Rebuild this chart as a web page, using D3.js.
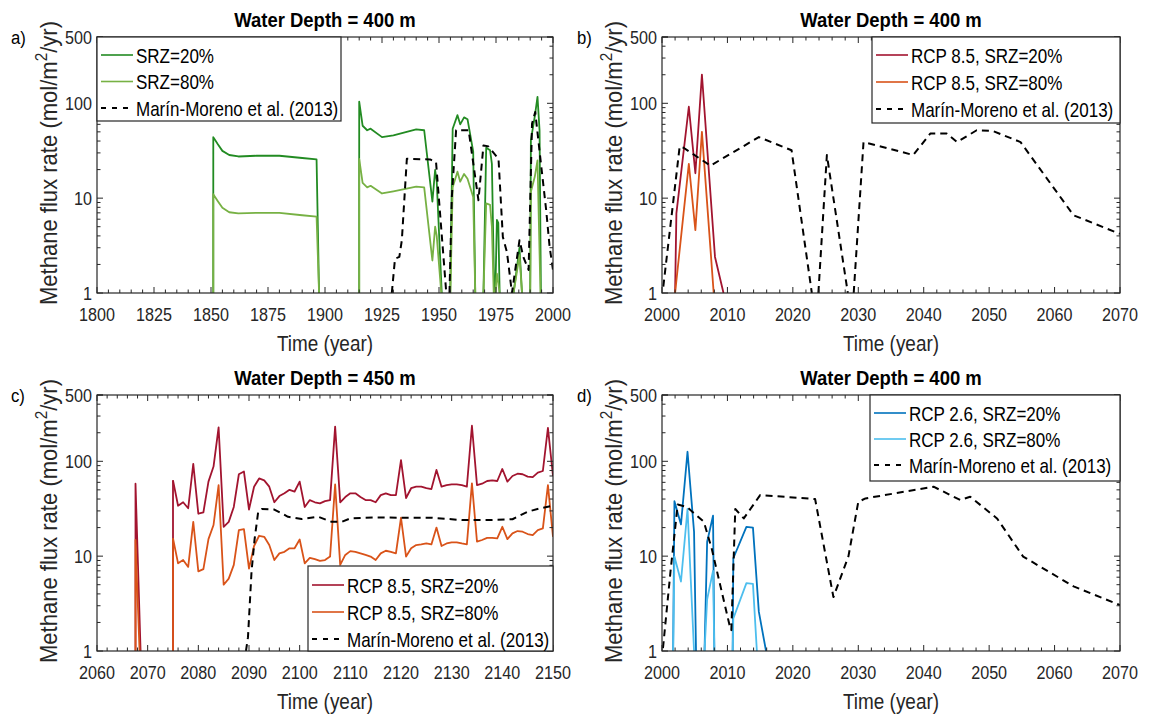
<!DOCTYPE html>
<html>
<head>
<meta charset="utf-8">
<script src="https://cdn.jsdelivr.net/npm/d3@7"></script>
<style>
  body { margin: 0; background: #fff; }
  svg { font-family: "Liberation Sans", Arial, sans-serif; }
</style>
</head>
<body>
<svg id="fig" width="1149" height="717"></svg>
<script>
// Four log-scale panels of methane flux vs time, MATLAB look.

// ---- panel a: 400 m, historical ----
const srz20A = [[1851,1],[1851,44],[1853,37],[1855,31.5],[1858,28.5],[1862,27.5],[1870,28],[1880,28],[1890,26.5],[1896.3,25.6],[1897.4,1], null,
  [1915,1],[1915,104],[1916.5,58],[1918.5,52],[1920,54],[1925,44],[1930,46],[1940,53],[1943.5,52],[1947.1,9.2],[1948.3,19.8],[1949,15],[1951.2,1], null,
  [1954.9,1],[1956,54],[1958.1,75],[1959.3,60],[1961,71],[1962.5,68],[1965,31],[1965.9,1], null,
  [1969.5,1],[1970.7,34],[1972.4,32],[1973.2,23],[1974.2,1], null,
  [1974.7,1],[1975.4,5.9],[1976,5.5],[1976.6,1], null,
  [1982.7,1],[1985.3,3],[1986.4,1], null,
  [1990,1],[1990.3,41],[1992.1,75],[1993.2,117],[1994.1,52],[1994.7,1]];
const srz80A = [[1851,1],[1851,11],[1853,9.3],[1855,7.9],[1858,7.1],[1862,6.9],[1870,7],[1880,7],[1890,6.6],[1896.3,6.4],[1897.4,1], null,
  [1915,1],[1915,26],[1916.5,14.5],[1918.5,13],[1920,13.5],[1925,11.2],[1930,11.8],[1940,13.2],[1943.5,13],[1947.1,2.2],[1948.3,5],[1949,4],[1951,1], null,
  [1955,1],[1956,13],[1958.1,19],[1959.3,14.9],[1961,18],[1962.5,16],[1965,10.3],[1965.9,1], null,
  [1969.5,1],[1970.7,8.8],[1972.4,8.5],[1973.2,5],[1974,1], null,
  [1974.7,1],[1975.4,1.6],[1976.6,1], null,
  [1982.7,1],[1985.3,2.5],[1986.4,1], null,
  [1990,1],[1990.3,11.7],[1992,16.8],[1993.2,25],[1994.5,1]];
const marinA = [[1929.3,1],[1930.7,2.3],[1932.6,2.4],[1933.7,3.6],[1935.9,26],[1946.1,25.6],[1948.7,24],[1953.2,1], null,
  [1954.6,1],[1955.6,10],[1957.5,52],[1963,52],[1967.3,9.5],[1969.5,36],[1971.7,35],[1976.1,26],[1978,3.9],[1979.8,2.7],[1982,1],
  [1985.3,3.6],[1987,2.4],[1989.3,1.75],[1990.8,61],[1992.2,81],[1994.4,27],[1997,7.5],[1998.5,3.1],[2000,1.75]];

// ---- panel b: 400 m, RCP 8.5 ----
const rcp85srz20B = [[2002,1],[2002.2,6.9],[2004.1,92],[2005.1,18.3],[2006.1,201],[2008.1,2.4],[2009.4,1]];
const rcp85srz80B = [[2002,1],[2004.1,23],[2005.1,4.6],[2006.1,50],[2007.9,1]];
const marinB = [[2000.2,1.17],[2002.7,35],[2003.3,34],[2007.4,22],[2014.8,44],[2019.8,32],[2022.9,1], null,
  [2023.9,1],[2025.2,28.5],[2028.4,1], null,
  [2029.3,1],[2030.8,39],[2038.4,28.5],[2041,48],[2043.5,48],[2045.1,39],[2048.1,52],[2050.6,51],[2054.8,39],[2062.9,6.6],[2070,4.2]];

// ---- panel c: 450 m, RCP 8.5 ----
const yearsC = d3.range(2075, 2151);
const rcp85srz20C = [63,34,37,32,94,28,29,61,88,228,20.4,23,33,73,78,31,54,66,63,54,37,43,46,50,48,61,33,39,37,36,38,39,232,
  37,42,46,46,42,39,39,37,44,46,44,44,103,41,52,54,54,52,51,81,54,56,57,57,56,54,237,56,58,62,63,62,83,61,70,74,73,69,68,76,79,225,70];
const rcp85srz80C = [15.4,8.4,9.1,7.7,23,6.9,7.3,15.1,21.3,56,5,5.8,8.1,18.8,19.3,7.4,12.8,16.4,16,13.1,9.1,10.7,11.1,12.1,12.1,15,8.4,9.6,9.3,8.9,9.1,9.9,57,
  8.1,10.3,11.3,11.1,10.7,10.3,9.9,9.1,10.7,11.4,11.1,10.7,25.4,9.9,12.1,13.1,13.3,13.6,13.3,20,12.8,13.6,14,14,13.6,13.3,58.5,14.2,14.8,15.6,15.6,15.4,20.4,15.1,17.4,18.4,18.1,17.1,16.7,18.8,19.6,56,16];
const spike20C = [[2067.6,1],[2067.6,58],[2068.6,1], null, [2075,1],[2075,63]];
const spike80C = [[2067.6,1],[2067.6,14.8],[2068.4,1], null, [2075,1],[2075,15.4]];
const marinC = [[2089.4,1],[2089.8,1.4],[2090.5,6.9],[2091.1,15],[2091.8,29],[2092.5,31.5],[2095,31],[2097.7,26],[2100.4,24.6],[2103.7,26],
  [2106.3,23],[2108.3,23],[2110,25],[2115,25.6],[2120,25.4],[2126,25.4],[2130,24.5],[2132,24],[2137,24],[2142,24.5],[2145,29.4],[2147.5,32],[2150,34]];

// ---- panel d: 400 m, RCP 2.6 ----
const rcp26srz20D = [[2001.7,1],[2001.9,38],[2002.9,21.6],[2003.9,126],[2004.9,18],[2005.2,1], null,
  [2006.5,1],[2006.9,14.2],[2007.8,26.7],[2008,1], null,
  [2010.8,1],[2010.9,9.5],[2012.9,20.4],[2013.9,20],[2014.8,2.6],[2015.9,1]];
const rcp26srz80D = [[2001.7,1],[2001.9,9.9],[2002.9,5.4],[2003.9,31.4],[2004.9,1], null,
  [2006.5,1],[2006.9,3.5],[2007.8,7],[2008,1], null,
  [2010.8,1],[2010.9,2.2],[2012.9,5.2],[2013.9,5.1],[2014.5,1]];
const marinD = [[2000.15,1.07],[2001.3,6.9],[2002.4,35],[2003.8,33],[2006.4,23],[2007.6,12],[2010.3,1.9],[2010.6,1.66],[2011.2,31.4],
  [2012.5,25],[2015,44],[2023.4,40],[2026.2,3.7],[2028.5,10],[2030,37.4],[2031.1,40.6],[2041.5,54],[2045.6,39],[2047.1,42.3],
  [2051.2,25],[2055.2,9.9],[2062.9,4.8],[2070,3.05]];

const yTicks = [1, 10, 100, 500];
const marinLabel = "Marín-Moreno et al. (2013)";

const C = {
  green: "#228b22", lightGreen: "#77b144",
  red: "#a2142f", orange: "#d95319",
  blue: "#0072bd", lightBlue: "#4dbeee",
  axis: "#262626"
};

const svg = d3.select("#fig");

// MATLAB's Helvetica comes out taller and narrower than Liberation Sans
function squeezed(parent, x, y, str, size, sx) {
  return parent.append("text")
    .attr("transform", `translate(${x},${y}) scale(${sx},1)`)
    .attr("font-size", size)
    .text(str);
}

function drawPanel(o) {
  const { left, top, width, height } = o.box;
  const g = svg.append("g").attr("transform", `translate(${left},${top})`);
  const x = d3.scaleLinear().domain(o.xDomain).range([0, width]);
  const y = d3.scaleLog().domain([1, 500]).range([height, 0]);

  const clipId = "clip-" + o.id;
  g.append("clipPath").attr("id", clipId)
    .append("rect").attr("width", width).attr("height", height);

  // series
  const line = d3.line()
    .defined(d => d !== null)
    .x(d => x(d[0]))
    .y(d => y(d[1]));
  const plot = g.append("g").attr("clip-path", `url(#${clipId})`);
  o.series.forEach(s => {
    s.data.forEach(arr => {
      plot.append("path")
        .datum(arr)
        .attr("fill", "none")
        .attr("stroke", s.color)
        .attr("stroke-width", s.dash ? 2 : 1.8)
        .attr("stroke-dasharray", s.dash ? "7 5" : null)
        .attr("stroke-linejoin", "round")
        .attr("d", line);
    });
  });

  // ticks (inward, mirrored on all four sides)
  const xMajor = d3.range(o.xDomain[0], o.xDomain[1] + 0.01, o.xStep);
  const xMinor = d3.range(o.xDomain[0], o.xDomain[1] + 0.01, o.xMinor);
  const yMinor = [];
  [1, 10, 100].forEach(dec => d3.range(2, 10).forEach(k => { if (dec * k <= 500) yMinor.push(dec * k); }));

  const tk = g.append("g").attr("stroke", C.axis).attr("stroke-width", 1);
  xMinor.forEach(v => {
    const isMajor = xMajor.some(m => Math.abs(m - v) < 1e-6);
    const len = isMajor ? 6 : 3.5;
    tk.append("line").attr("x1", x(v)).attr("x2", x(v)).attr("y1", height).attr("y2", height - len);
    tk.append("line").attr("x1", x(v)).attr("x2", x(v)).attr("y1", 0).attr("y2", len);
  });
  yTicks.concat(yMinor).forEach(v => {
    const len = yTicks.includes(v) ? 6 : 3.5;
    tk.append("line").attr("x1", 0).attr("x2", len).attr("y1", y(v)).attr("y2", y(v));
    tk.append("line").attr("x1", width).attr("x2", width - len).attr("y1", y(v)).attr("y2", y(v));
  });

  g.append("rect").attr("width", width).attr("height", height)
    .attr("fill", "none").attr("stroke", C.axis).attr("stroke-width", 1.2);

  // tick labels
  g.selectAll(".xl").data(xMajor).join("text")
    .attr("transform", d => `translate(${x(d)},${height + 28}) scale(0.85,1)`)
    .attr("text-anchor", "middle").attr("font-size", 19).attr("fill", C.axis)
    .text(d => d);
  g.selectAll(".yl").data(yTicks).join("text")
    .attr("transform", d => `translate(-5,${y(d) + 7}) scale(0.85,1)`)
    .attr("text-anchor", "end").attr("font-size", 19).attr("fill", C.axis)
    .text(d => d);

  // axis labels
  squeezed(g, width / 2, height + 58, "Time (year)", 21.5, 0.88)
    .attr("text-anchor", "middle").attr("fill", C.axis);
  const yl = g.append("text")
    .attr("transform", `translate(-40,${height / 2 - 2}) rotate(-90) scale(0.9,1)`)
    .attr("text-anchor", "middle").attr("font-size", 24.5).attr("fill", C.axis);
  yl.append("tspan").text("Methane flux rate (mol/m");
  yl.append("tspan").attr("dy", -10).attr("font-size", 17).text("2");
  yl.append("tspan").attr("dy", 10).text("/yr)");

  // title and panel letter
  squeezed(g, width / 2, -10, o.title, 21, 0.88)
    .attr("text-anchor", "middle").attr("font-weight", "bold").attr("fill", "#000");
  squeezed(g, o.letterDx, 7, o.letter, 19, 0.88).attr("fill", "#000");

  // legend
  const L = o.legend;
  const lg = g.append("g").attr("transform", `translate(${L.x},${L.y})`);
  lg.append("rect").attr("width", L.w).attr("height", L.h)
    .attr("fill", "#fff").attr("stroke", C.axis).attr("stroke-width", 1.2);
  o.series.forEach((s, i) => {
    const cy = L.firstRow + i * L.rowGap;
    lg.append("line").attr("x1", 4).attr("x2", 36).attr("y1", cy).attr("y2", cy)
      .attr("stroke", s.color).attr("stroke-width", s.dash ? 1.8 : 1.6)
      .attr("stroke-dasharray", s.dash ? "5 6" : null);
    squeezed(lg, 39, cy + 7.5, s.label, 20.5, 0.83).attr("fill", "#000");
  });
}

const boxA = { left: 97, top: 37, width: 456, height: 256 };
const boxB = { left: 662, top: 37, width: 458, height: 256 };
const boxC = { left: 97, top: 395, width: 456, height: 256 };
const boxD = { left: 662, top: 395, width: 458, height: 256 };

drawPanel({
  id: "a", box: boxA, xDomain: [1800, 2000], xStep: 25, xMinor: 5,
  title: "Water Depth = 400 m", letter: "a)", letterDx: -86,
  legend: { x: 0, y: 0, w: 244, h: 84, firstRow: 18, rowGap: 26.5 },
  series: [
    { label: "SRZ=20%", color: C.green, data: [srz20A] },
    { label: "SRZ=80%", color: C.lightGreen, data: [srz80A] },
    { label: marinLabel, color: "#000", dash: true, data: [marinA] }
  ]
});

drawPanel({
  id: "b", box: boxB, xDomain: [2000, 2070], xStep: 10, xMinor: 2,
  title: "Water Depth = 400 m", letter: "b)", letterDx: -85,
  legend: { x: 210, y: 0, w: 248, h: 86, firstRow: 18, rowGap: 27 },
  series: [
    { label: "RCP 8.5, SRZ=20%", color: C.red, data: [rcp85srz20B] },
    { label: "RCP 8.5, SRZ=80%", color: C.orange, data: [rcp85srz80B] },
    { label: marinLabel, color: "#000", dash: true, data: [marinB] }
  ]
});

drawPanel({
  id: "c", box: boxC, xDomain: [2060, 2150], xStep: 10, xMinor: 2,
  title: "Water Depth = 450 m", letter: "c)", letterDx: -86,
  legend: { x: 211, y: 171, w: 245, h: 85, firstRow: 19, rowGap: 27 },
  series: [
    { label: "RCP 8.5, SRZ=20%", color: C.red, data: [yearsC.map((yr, i) => [yr, rcp85srz20C[i]]), spike20C] },
    { label: "RCP 8.5, SRZ=80%", color: C.orange, data: [yearsC.map((yr, i) => [yr, rcp85srz80C[i]]), spike80C] },
    { label: marinLabel, color: "#000", dash: true, data: [marinC] }
  ]
});

drawPanel({
  id: "d", box: boxD, xDomain: [2000, 2070], xStep: 10, xMinor: 2,
  title: "Water Depth = 400 m", letter: "d)", letterDx: -85,
  legend: { x: 208, y: 0, w: 250, h: 86, firstRow: 18, rowGap: 26 },
  series: [
    { label: "RCP 2.6, SRZ=20%", color: C.blue, data: [rcp26srz20D] },
    { label: "RCP 2.6, SRZ=80%", color: C.lightBlue, data: [rcp26srz80D] },
    { label: marinLabel, color: "#000", dash: true, data: [marinD] }
  ]
});
</script>
</body>
</html>
